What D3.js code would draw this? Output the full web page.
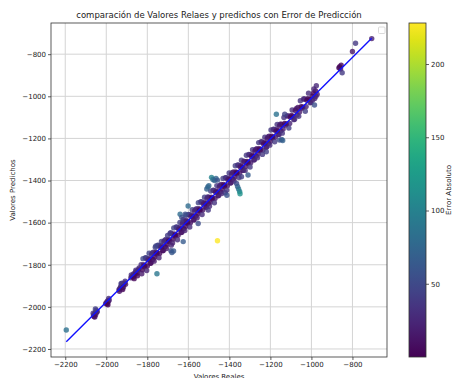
<!DOCTYPE html>
<html>
<head>
<meta charset="utf-8">
<script src="https://cdn.jsdelivr.net/npm/d3@7"></script>
<style>
body { margin: 0; background: #fff; }
svg { display: block; font-family: "DejaVu Sans", sans-serif; }
</style>
</head>
<body>
<script>
const WIDTH = 452;
const HEIGHT = 378;

// [valor real, valor predicho]
var puntosBanda = [
    [-2062, -2040], [-2058, -2035], [-2055, -2030], [-2052, -2038], [-2050, -2028],
    [-2047, -2025], [-2044, -2022], [-2060, -2046],
    [-2003, -1984], [-1998, -1978], [-1994, -1972], [-1990, -1975], [-1986, -1968], [-1996, -1986],
    [-1938, -1918], [-1934, -1912], [-1930, -1905], [-1926, -1900], [-1922, -1910], [-1918, -1895],
    [-1914, -1890], [-1910, -1886], [-1906, -1893], [-1928, -1890], [-1920, -1918],
    [-1880, -1862], [-1875, -1855], [-1870, -1850], [-1866, -1842], [-1862, -1848], [-1858, -1838],
    [-1854, -1832], [-1850, -1840], [-1846, -1828], [-1842, -1822], [-1868, -1858],
    [-1830, -1800], [-1824, -1824], [-1818, -1800], [-1812, -1804], [-1806, -1768], [-1800, -1806],
    [-1794, -1770], [-1788, -1776], [-1782, -1792], [-1776, -1744], [-1770, -1740], [-1764, -1764],
    [-1758, -1740], [-1752, -1744], [-1746, -1708], [-1740, -1746], [-1734, -1710], [-1728, -1716],
    [-1722, -1732], [-1716, -1684], [-1710, -1680], [-1704, -1704], [-1698, -1680], [-1692, -1684],
    [-1686, -1648],
    [-1680, -1654], [-1674, -1678], [-1668, -1654], [-1662, -1658], [-1656, -1622], [-1650, -1660],
    [-1644, -1624], [-1638, -1630], [-1632, -1646], [-1626, -1598], [-1620, -1594], [-1614, -1618],
    [-1608, -1594], [-1602, -1598], [-1596, -1562], [-1590, -1600], [-1584, -1564], [-1578, -1570],
    [-1572, -1586], [-1566, -1538], [-1560, -1534], [-1554, -1558], [-1548, -1534], [-1542, -1538],
    [-1536, -1502], [-1530, -1540], [-1524, -1504], [-1518, -1510], [-1512, -1526], [-1506, -1478],
    [-1500, -1479], [-1494, -1503], [-1488, -1479], [-1482, -1483], [-1476, -1447], [-1470, -1485],
    [-1464, -1449], [-1458, -1455], [-1452, -1471], [-1446, -1423], [-1440, -1419], [-1434, -1443],
    [-1428, -1419], [-1422, -1423], [-1416, -1387], [-1410, -1425], [-1404, -1389], [-1398, -1395],
    [-1392, -1411], [-1386, -1363], [-1380, -1359], [-1374, -1383], [-1368, -1359], [-1362, -1363],
    [-1356, -1327], [-1350, -1365], [-1344, -1329], [-1338, -1335], [-1332, -1351],
    [-1326, -1309], [-1320, -1333], [-1314, -1309], [-1308, -1313], [-1302, -1277], [-1296, -1315],
    [-1290, -1279], [-1284, -1285], [-1278, -1301], [-1272, -1253], [-1266, -1249], [-1260, -1273],
    [-1254, -1249], [-1248, -1253], [-1242, -1217], [-1236, -1255], [-1230, -1219], [-1224, -1225],
    [-1218, -1241], [-1212, -1193], [-1206, -1189], [-1200, -1213], [-1194, -1189], [-1188, -1193],
    [-1182, -1157], [-1176, -1195], [-1170, -1159], [-1164, -1165], [-1158, -1181], [-1152, -1133],
    [-1146, -1133], [-1138, -1155], [-1130, -1129], [-1122, -1131], [-1114, -1093], [-1106, -1129],
    [-1098, -1091], [-1090, -1095], [-1082, -1109], [-1074, -1059], [-1066, -1053], [-1058, -1075],
    [-1050, -1049], [-1042, -1051], [-1034, -1013], [-1026, -1049], [-1018, -1011], [-1010, -1015],
    [-1002, -1029],
    [-996, -1000], [-990, -985], [-984, -1010], [-980, -975], [-976, -950], [-972, -990],
    [-866, -865], [-862, -860], [-858, -870], [-855, -852], [-850, -888],
    [-800, -787], [-706, -726]
];

// segunda capa de la banda, algo más dispersa
var puntosBanda2 = [
    [-2064, -2030], [-2056, -2048], [-2049, -2016], [-1992, -1990], [-1988, -1960],
    [-1936, -1926], [-1924, -1888], [-1916, -1906], [-1908, -1878],
    [-1878, -1848], [-1864, -1866], [-1856, -1826], [-1848, -1852], [-1840, -1815],
    [-1827, -1843], [-1821, -1771], [-1815, -1809], [-1809, -1767], [-1803, -1827], [-1797, -1777],
    [-1791, -1745], [-1785, -1793], [-1779, -1751], [-1773, -1775], [-1767, -1783], [-1761, -1717],
    [-1755, -1749], [-1749, -1707], [-1743, -1767], [-1737, -1717], [-1731, -1689], [-1725, -1733],
    [-1719, -1691], [-1713, -1715], [-1707, -1723], [-1701, -1661], [-1695, -1689], [-1689, -1651],
    [-1683, -1707],
    [-1677, -1697], [-1671, -1625], [-1665, -1663], [-1659, -1621], [-1653, -1681], [-1647, -1631],
    [-1641, -1599], [-1635, -1647], [-1629, -1605], [-1623, -1629], [-1617, -1637], [-1611, -1565],
    [-1605, -1603], [-1599, -1561], [-1593, -1621], [-1587, -1571], [-1581, -1539], [-1575, -1587],
    [-1569, -1545], [-1563, -1569], [-1557, -1577], [-1551, -1505], [-1545, -1543], [-1539, -1501],
    [-1533, -1561], [-1527, -1511], [-1521, -1479], [-1515, -1527], [-1509, -1485], [-1503, -1509],
    [-1497, -1522], [-1491, -1450], [-1485, -1488], [-1479, -1446], [-1473, -1506], [-1467, -1456],
    [-1461, -1424], [-1455, -1472], [-1449, -1430], [-1443, -1454], [-1437, -1462], [-1431, -1390],
    [-1425, -1428], [-1419, -1386], [-1413, -1446], [-1407, -1396], [-1401, -1364], [-1395, -1412],
    [-1389, -1370], [-1383, -1394], [-1377, -1402], [-1371, -1330], [-1365, -1368], [-1359, -1326],
    [-1353, -1386], [-1347, -1336], [-1341, -1304], [-1335, -1352], [-1329, -1310],
    [-1323, -1352], [-1317, -1280], [-1311, -1318], [-1305, -1276], [-1299, -1336], [-1293, -1286],
    [-1287, -1254], [-1281, -1302], [-1275, -1260], [-1269, -1284], [-1263, -1292], [-1257, -1220],
    [-1251, -1258], [-1245, -1216], [-1239, -1276], [-1233, -1226], [-1227, -1194], [-1221, -1242],
    [-1215, -1200], [-1209, -1224], [-1203, -1232], [-1197, -1160], [-1191, -1198], [-1185, -1156],
    [-1179, -1216], [-1173, -1166], [-1167, -1134], [-1161, -1182], [-1155, -1140], [-1149, -1164],
    [-1142, -1175], [-1134, -1101], [-1126, -1137], [-1118, -1093], [-1110, -1151], [-1102, -1099],
    [-1094, -1065], [-1086, -1111], [-1078, -1067], [-1070, -1089], [-1062, -1095], [-1054, -1021],
    [-1046, -1057], [-1038, -1013], [-1030, -1071], [-1022, -1019], [-1014, -985], [-1006, -1031],
    [-994, -1018], [-988, -965], [-978, -1000]
];

var puntosAtipicos = [
    [-2195, -2110], [-2053, -2010], [-1753, -1843],
    [-1758, -1711], [-1685, -1733], [-1680, -1742], [-1672, -1735],
    [-1625, -1690], [-1552, -1604], [-1601, -1521],
    [-1640, -1560], [-1632, -1575], [-1625, -1585], [-1615, -1560], [-1610, -1590],
    [-1503, -1540], [-1510, -1440], [-1505, -1430], [-1500, -1425],
    [-1487, -1385], [-1480, -1395], [-1472, -1400], [-1465, -1390], [-1458, -1398],
    [-1458, -1686],
    [-1365, -1414], [-1360, -1428], [-1355, -1440], [-1350, -1452], [-1348, -1463],
    [-1420, -1458], [-1412, -1470], [-1341, -1382], [-1309, -1374],
    [-1220, -1263], [-1155, -1208], [-1145, -1205], [-1140, -1210],
    [-1171, -1085], [-1130, -1085], [-985, -1041], [-785, -748]
];

var lineaReal = [-2195, -706];
var lineaPred = [-2166, -724];

var ticksX = [-2200, -2000, -1800, -1600, -1400, -1200, -1000, -800];
var ticksY = [-2200, -2000, -1800, -1600, -1400, -1200, -1000, -800];
var ticksColor = [50, 100, 150, 200];

var puntos = puntosBanda.concat(puntosBanda2, puntosAtipicos);
puntos.forEach(function(d) { d.err = Math.abs(d[0] - d[1]); });

var pLeft = 51, pRight = 387, pTop = 23, pBottom = 357;

var svg = d3.select('body')
    .append('svg')
    .attr('width', WIDTH)
    .attr('height', HEIGHT);

function pad(ext) {
    var m = (ext[1] - ext[0]) * 0.05;
    return [ext[0] - m, ext[1] + m];
}

var x = d3.scaleLinear()
    .domain(pad(d3.extent(puntos.map(function(d) { return d[0]; }).concat(lineaReal))))
    .range([pLeft, pRight]);
var y = d3.scaleLinear()
    .domain(pad(d3.extent(puntos.map(function(d) { return d[1]; }).concat(lineaPred))))
    .range([pBottom, pTop]);

var color = d3.scaleSequential(d3.interpolateViridis)
    .domain(d3.extent(puntos, function(d) { return d.err; }));

// rejilla
svg.append('g')
    .selectAll('line')
    .data(ticksX)
    .enter()
    .append('line')
    .attr('x1', function(d) { return x(d); })
    .attr('x2', function(d) { return x(d); })
    .attr('y1', pTop)
    .attr('y2', pBottom)
    .attr('stroke', '#d4d4d4')
    .attr('stroke-width', 1);
svg.append('g')
    .selectAll('line')
    .data(ticksY)
    .enter()
    .append('line')
    .attr('x1', pLeft)
    .attr('x2', pRight)
    .attr('y1', function(d) { return y(d); })
    .attr('y2', function(d) { return y(d); })
    .attr('stroke', '#d4d4d4')
    .attr('stroke-width', 1);

svg.append('g')
    .selectAll('circle')
    .data(puntos)
    .enter()
    .append('circle')
    .attr('cx', function(d) { return x(d[0]); })
    .attr('cy', function(d) { return y(d[1]); })
    .attr('r', 2.7)
    .attr('fill', function(d) { return color(d.err); })
    .attr('opacity', 0.8);

svg.append('line')
    .attr('x1', x(lineaReal[0]))
    .attr('y1', y(lineaPred[0]))
    .attr('x2', x(lineaReal[1]))
    .attr('y2', y(lineaPred[1]))
    .attr('stroke', '#1010ff')
    .attr('stroke-width', 1.4);

// ejes
var fmt = d3.format('d');
var ejeX = svg.append('g')
    .attr('transform', 'translate(0,' + pBottom + ')')
    .call(d3.axisBottom(x).tickValues(ticksX).tickFormat(fmt).tickSize(3).tickPadding(2));
var ejeY = svg.append('g')
    .attr('transform', 'translate(' + pLeft + ',0)')
    .call(d3.axisLeft(y).tickValues(ticksY).tickFormat(fmt).tickSize(3).tickPadding(2));
[ejeX, ejeY].forEach(function(g) {
    g.select('.domain').remove();
    g.selectAll('line').attr('stroke', '#333').attr('stroke-width', 0.8);
    g.selectAll('text').attr('font-size', '7px').attr('fill', '#222').attr('font-family', 'DejaVu Sans');
});

svg.append('rect')
    .attr('x', pLeft)
    .attr('y', pTop)
    .attr('width', pRight - pLeft)
    .attr('height', pBottom - pTop)
    .attr('fill', 'none')
    .attr('stroke', '#333')
    .attr('stroke-width', 0.8);

// leyenda vacía
svg.append('rect')
    .attr('x', 378.5)
    .attr('y', 27)
    .attr('width', 6.5)
    .attr('height', 6.5)
    .attr('rx', 1)
    .attr('fill', '#fff')
    .attr('stroke', '#d0d0d0')
    .attr('stroke-width', 0.8);

svg.append('text')
    .attr('x', (pLeft + pRight) / 2)
    .attr('y', 18)
    .attr('text-anchor', 'middle')
    .attr('font-size', '8.5px')
    .attr('fill', '#222')
    .text('comparación de Valores Relaes y predichos con Error de Predicción');

svg.append('text')
    .attr('x', (pLeft + pRight) / 2)
    .attr('y', 379)
    .attr('text-anchor', 'middle')
    .attr('font-size', '7px')
    .attr('fill', '#222')
    .text('Valores Reales');

svg.append('text')
    .attr('transform', 'translate(15,' + (pTop + pBottom) / 2 + ') rotate(-90)')
    .attr('text-anchor', 'middle')
    .attr('font-size', '7px')
    .attr('fill', '#222')
    .text('Valores Predichos');

// barra de color
var cbX = 409, cbW = 17;
var grad = svg.append('defs')
    .append('linearGradient')
    .attr('id', 'viridis')
    .attr('x1', 0).attr('y1', 1)
    .attr('x2', 0).attr('y2', 0);
d3.range(0, 1.0001, 0.05).forEach(function(t) {
    grad.append('stop')
        .attr('offset', t)
        .attr('stop-color', d3.interpolateViridis(t));
});

var cy = d3.scaleLinear()
    .domain(color.domain())
    .range([pBottom, pTop]);

svg.append('rect')
    .attr('x', cbX)
    .attr('y', pTop)
    .attr('width', cbW)
    .attr('height', pBottom - pTop)
    .attr('fill', 'url(#viridis)')
    .attr('stroke', '#333')
    .attr('stroke-width', 0.8);

var ejeC = svg.append('g')
    .attr('transform', 'translate(' + (cbX + cbW) + ',0)')
    .call(d3.axisRight(cy).tickValues(ticksColor).tickSize(3).tickPadding(2));
ejeC.select('.domain').remove();
ejeC.selectAll('line').attr('stroke', '#333').attr('stroke-width', 0.8);
ejeC.selectAll('text').attr('font-size', '7px').attr('fill', '#222').attr('font-family', 'DejaVu Sans');

svg.append('text')
    .attr('transform', 'translate(451,' + (pTop + pBottom) / 2 + ') rotate(-90)')
    .attr('text-anchor', 'middle')
    .attr('font-size', '7px')
    .attr('fill', '#222')
    .text('Error Absoluto');
</script>
</body>
</html>
